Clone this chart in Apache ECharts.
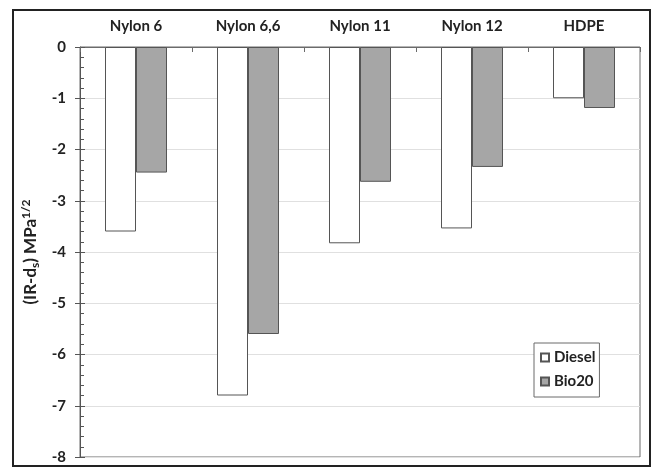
<!DOCTYPE html>
<html><head><meta charset="utf-8">
<script src="https://cdn.jsdelivr.net/npm/echarts@6/dist/echarts.min.js"></script>
<style>html,body{margin:0;padding:0;background:#fff}#c{width:652px;height:468px}</style>
</head><body><div id="c"></div>
<script>
const categories = ['Nylon 6', 'Nylon 6,6', 'Nylon 11', 'Nylon 12', 'HDPE'];
const diesel = [-3.60, -6.80, -3.83, -3.54, -1.00];
const bio20 = [-2.45, -5.60, -2.63, -2.34, -1.19];
const seriesNames = ['Diesel', 'Bio20'];
const yTicks = { min: -8, max: 0, interval: 1 };

const F = 'Lato, "Open Sans", sans-serif';
const chart = echarts.init(document.getElementById('c'), null, { renderer: 'canvas' });
const grid = { left: 80, right: 12, top: 47, bottom: 11, show: true, borderColor: '#6b6b6b', borderWidth: 1 };
chart.setOption({
  animation: false,
  backgroundColor: '#fff',
  textStyle: { fontFamily: F },
  graphic: [{
    type: 'rect', shape: { x: 13, y: 10, width: 637, height: 456 },
    style: { fill: 'none', stroke: '#222', lineWidth: 2 }, z: 100
  }],
  grid: grid,
  legend: {
    orient: 'vertical', left: 534, top: 343,
    padding: [7, 4, 8, 6], itemGap: 9,
    borderColor: '#6b6b6b', borderWidth: 1, backgroundColor: '#fff',
    icon: 'rect', itemWidth: 8, itemHeight: 8,
    textStyle: { fontFamily: F, fontWeight: 'bold', fontSize: 15, color: '#222' },
    data: seriesNames
  },
  xAxis: {
    type: 'category', position: 'top', data: categories,
    axisLine: { show: true, lineStyle: { color: '#6b6b6b', width: 1 } },
    axisTick: { show: true, inside: true, length: 5, lineStyle: { color: '#6b6b6b' } },
    axisLabel: { margin: 13, fontFamily: F, fontWeight: 'bold', fontSize: 15, color: '#222' },
    splitLine: { show: false }
  },
  yAxis: [{
    type: 'value', min: yTicks.min, max: yTicks.max, interval: yTicks.interval,
    axisLine: { show: true, lineStyle: { color: '#555', width: 1 } },
    axisTick: { show: true, inside: true, length: 5, lineStyle: { color: '#555' } },
    minorTick: { show: true, splitNumber: 5, length: 4, lineStyle: { color: '#555' } },
    axisLabel: { margin: 14, fontFamily: F, fontWeight: 'bold', fontSize: 15, color: '#222' },
    splitLine: { show: true, lineStyle: { color: '#e0e0e0', width: 1 } },
    name: '{a|(IR-d}{sub|s}{a|) MPa}{sup|1/2}',
    nameLocation: 'middle', nameGap: 33,
    nameTextStyle: {
      rich: {
        a: { fontFamily: F, fontWeight: 'bold', fontSize: 17, color: '#222', lineHeight: 24, verticalAlign: 'middle' },
        sub: { fontFamily: F, fontWeight: 'bold', fontSize: 12, color: '#222', lineHeight: 24, padding: [9, 0, 0, 0] },
        sup: { fontFamily: F, fontWeight: 'bold', fontSize: 12, color: '#222', lineHeight: 24, padding: [0, 0, 9, 0] }
      }
    }
  }, {
    type: 'value', min: yTicks.min, max: yTicks.max, interval: yTicks.interval, position: 'left',
    axisLine: { show: false },
    axisTick: { show: true, inside: false, length: 5, lineStyle: { color: '#555' } },
    axisLabel: { show: false }, splitLine: { show: false }
  }],
  series: [{
    name: seriesNames[0], type: 'bar', data: diesel, barWidth: 31, barGap: '0%',
    itemStyle: { color: '#ffffff', borderColor: '#555', borderWidth: 1 }
  }, {
    name: seriesNames[1], type: 'bar', data: bio20, barWidth: 31, barGap: '0%',
    itemStyle: { color: '#a6a6a6', borderColor: '#555', borderWidth: 1 }
  }]
});
</script></body></html>
